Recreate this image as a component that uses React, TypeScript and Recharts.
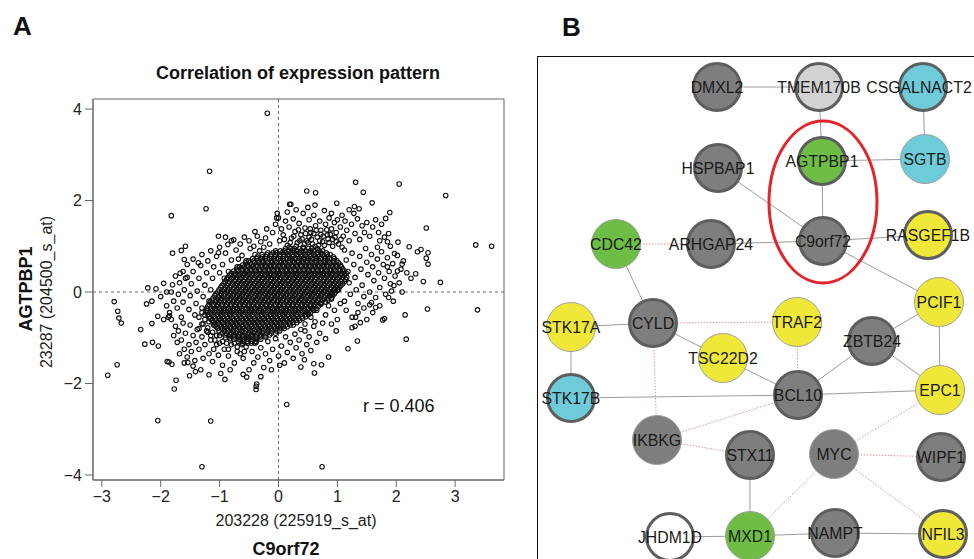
import React from 'react';
import { ScatterChart, Scatter, XAxis, YAxis, ReferenceLine, ReferenceArea } from 'recharts';

const FONT = '"Liberation Sans", Arial, Helvetica, sans-serif';

// ---------- Panel A data (C9orf72 vs AGTPBP1 expression) ----------
const xTicks = [-3, -2, -1, 0, 1, 2, 3];
const yTicks = [-4, -2, 0, 2, 4];

const outlierPts: [number, number][] = [
[-0.19,3.91],[-1.17,2.64],[-1.23,1.82],[-1.82,1.67],[1.31,2.40],[2.05,2.36],[2.84,2.11],[0.48,2.21],[0.63,2.17],[1.44,2.18],[3.35,1.03],[3.62,1.00],[2.51,1.40],[2.75,0.21],[2.46,0.23],[2.33,0.40],[2.54,0.61],[2.51,0.74],[2.54,0.86],[2.36,0.88],[2.22,0.99],[2.42,0.93],[2.53,-0.37],[3.38,-0.39],[2.15,-0.50],[2.17,-1.03],[2.03,1.09],[2.10,0.0],[1.97,0.84],[2.10,0.61],[1.89,1.74],[1.18,-1.24],[1.34,-1.07],[1.39,-0.67],[1.25,-0.78],[0.85,-1.42],[0.98,-0.85],[0.73,-1.59],[0.61,-1.77],[0.60,-1.57],[0.38,-1.64],[0.44,-1.48],[0.14,-2.46],[0.74,-3.82],[-1.30,-3.82],[-2.05,-2.81],[-1.15,-2.82],[-0.38,-2.06],[-0.38,-2.13],[-0.37,-2.01],[-0.54,-1.86],[-0.91,-1.91],[-1.18,-1.81],[-1.77,-2.12],[-1.74,-1.93],[-2.90,-1.82],[-2.74,-1.59],[-2.79,-0.21],[-2.73,-0.42],[-2.71,-0.57],[-2.67,-0.68],[-2.34,-0.82],[-2.27,-1.14],[-2.14,-1.10],[-2.04,-1.18],[-2.24,-0.26],[-2.15,-0.20],[-2.22,0.09],[-2.08,0.07],[-2.15,-0.69],[-2.05,-0.53],[-1.95,0.19],[-1.90,0.0],[-1.80,0.16],[-1.80,0.85],[-1.65,0.91],[-1.58,1.00],[-1.60,0.71],[-1.67,0.41],[-1.55,0.32],[-1.02,1.22],[-0.76,1.14],[-0.86,1.04],[-1.02,0.86],[-1.36,0.64],[-1.85,-0.52],[-1.87,-0.55],[-1.86,-1.53],[-1.81,-1.58],[-1.89,-1.52],[-1.51,-1.83],[-1.41,-1.74],[-1.54,-1.54],[-0.02,1.72],[-0.03,1.62],[0.21,1.92],[0.19,1.92],[0.99,1.94],[1.59,1.95],[1.29,1.87],[1.37,1.82],[1.82,1.61],[1.87,1.28],[1.72,1.12],[1.85,0.55],[2.02,0.46],[1.96,0.14],[1.92,0.02],[1.87,-0.12],[1.80,-0.58],[1.77,-0.61],[1.65,-0.34],[1.58,-0.23],[1.31,-0.55]
];

const upperBandPts: [number, number][] = [
[-0.65,1.05],[-0.58,1.2],[-0.5,1.12],[-0.42,1.0],[-0.36,1.22],[-0.3,1.1],[-0.22,1.18],[-0.15,1.05],[-0.1,1.3],[-0.05,1.48],[0.02,1.12],[0.05,1.38],[0.08,1.25],[0.12,1.55],[0.15,1.02],[0.18,1.42],[0.22,1.18],[0.25,1.6],[0.28,1.32],[0.32,1.08],[0.35,1.5],[0.38,1.25],[0.42,1.72],[0.45,1.4],[0.48,1.12],[0.5,1.85],[0.52,1.58],[0.55,1.3],[0.58,1.05],[0.6,1.68],[0.63,1.45],[0.66,1.2],[0.7,1.55],[0.72,1.35],[0.75,1.1],[0.78,1.78],[0.8,1.48],[0.83,1.25],[0.86,1.62],[0.9,1.38],[0.92,1.15],[0.95,1.52],[0.98,1.3],[1.02,1.05],[1.05,1.42],[1.08,1.68],[1.1,1.22],[1.13,1.55],[1.16,1.35],[1.2,1.12],[1.24,1.48],[1.28,1.72],[1.3,1.28],[1.34,1.6],[1.38,1.15],[1.42,1.45],[1.46,1.3],[1.5,1.52],[1.55,1.22],[1.6,1.42],[1.65,1.58],[1.7,1.3],[1.75,1.48],[1.8,1.2],[1.85,1.1],[0.0,1.62],[-0.2,1.38],[0.3,1.8],[0.62,1.9],[0.9,1.72],[1.2,1.8],[1.0,1.58],[0.15,1.75],[-0.4,1.32],[-0.8,1.12],[-0.9,1.2],[-1.0,0.98],
[0.44,1.05],[0.52,1.2],[0.68,1.02],[0.86,1.08],[0.4,1.16],[0.6,1.28],[0.76,1.22],[0.2,1.08],[0.1,1.15],
[0.3,1.0],[0.36,1.12],[0.42,0.98],[0.5,1.08],[0.56,1.15],[0.62,1.0],[0.7,1.12],[0.78,1.02],[0.84,1.16],[0.92,1.0],[0.46,1.28],[0.54,1.38],[0.64,1.35],[0.72,1.26],[0.82,1.36],[0.88,1.26],[0.96,1.2],[0.34,1.36],[0.26,1.22],[0.18,0.98],[0.98,1.1],[1.06,1.15],[1.08,0.98]
];

const rightLobePts: [number, number][] = [
[1.12,0.92],[1.15,0.7],[1.18,0.45],[1.2,0.2],[1.22,-0.05],[1.25,0.85],[1.28,0.6],[1.3,0.32],[1.32,0.05],[1.35,-0.25],[1.38,0.78],[1.4,0.5],[1.42,0.15],[1.45,-0.1],[1.48,0.95],[1.5,0.65],[1.52,0.38],[1.55,0.0],[1.58,0.82],[1.6,0.55],[1.62,0.25],[1.65,-0.12],[1.68,0.72],[1.7,0.42],[1.72,0.1],[1.75,0.88],[1.78,0.6],[1.8,0.3],[1.82,-0.05],[1.85,0.75],[1.88,0.45],[1.9,0.18],[1.94,0.62],[1.98,0.35],[2.02,0.8],[2.05,0.2],[2.08,0.5],[2.12,0.68],[1.15,-0.4],[1.25,-0.55],[1.35,-0.45],[1.45,-0.35],[1.55,-0.28],[1.12,-0.2],[1.3,-0.75],[1.5,-0.6],[1.6,-0.45],[1.72,-0.3],[1.68,0.98],[1.9,1.0],[2.18,0.42],[2.25,0.3],[1.95,-0.2],
[0.55,-0.55],[0.65,-0.4],[0.72,-0.25],[0.8,-0.5],[0.85,-0.3],[0.9,-0.15],[0.95,-0.4],[1.0,-0.6],[1.05,-0.25],[0.62,-0.65],[0.45,-0.7],[0.38,-0.82],[0.9,-0.7],[1.02,0.05]
];

const leftLobePts: [number, number][] = [
[-1.05,0.78],[-1.1,0.55],[-1.12,0.3],[-1.15,0.05],[-1.18,-0.2],[-1.2,0.68],[-1.22,0.42],[-1.25,0.15],[-1.28,-0.1],[-1.3,-0.35],[-1.32,0.58],[-1.35,0.3],[-1.38,0.02],[-1.4,-0.25],[-1.42,-0.5],[-1.45,0.45],[-1.48,0.18],[-1.5,-0.08],[-1.52,-0.38],[-1.55,0.6],[-1.58,0.3],[-1.6,0.05],[-1.62,-0.22],[-1.65,-0.55],[-1.68,0.2],[-1.7,-0.05],[-1.72,-0.35],[-1.75,0.35],[-1.78,-0.2],[-1.82,0.0],[-1.85,-0.45],[-1.3,0.82],[-1.45,0.72],[-1.15,0.9],[-1.62,0.45],[-1.9,-0.3],[-1.95,-0.6],[-2.0,-0.1],
[-0.95,0.6],[-0.9,0.85],[-0.85,0.45],[-0.8,0.7],[-0.72,0.92],[-0.7,0.55],[-0.62,0.8],[-0.55,0.68],[-0.48,0.95],[-0.4,0.82],[-0.32,0.9],[-0.25,0.98],[-0.92,0.3],[-1.0,0.42],[-0.68,0.72]
];

const lowerPts: [number, number][] = [
[-0.55,-1.2],[-0.6,-1.45],[-0.65,-1.05],[-0.7,-1.3],[-0.75,-1.55],[-0.8,-1.15],[-0.85,-1.4],[-0.9,-1.0],[-0.92,-1.25],[-0.95,-1.6],[-1.0,-1.12],[-1.02,-1.38],[-1.05,-0.95],[-1.1,-1.25],[-1.12,-1.52],[-1.15,-1.05],[-1.18,-1.35],[-1.2,-0.88],[-1.25,-1.15],[-1.28,-1.45],[-1.3,-0.98],[-1.32,-1.7],[-1.35,-1.25],[-1.38,-0.82],[-1.4,-1.1],[-1.42,-1.5],[-1.45,-0.95],[-1.48,-1.3],[-1.5,-0.72],[-1.52,-1.15],[-1.55,-1.42],[-1.58,-0.9],[-1.6,-1.25],[-1.62,-0.68],[-1.65,-1.05],[-1.68,-1.35],[-1.7,-0.85],[-1.72,-1.1],[-1.75,-0.75],[-1.78,-0.95],[-1.82,-0.6],[-1.3,-0.7],[-1.25,-0.6],[-1.35,-0.55],[-0.98,-1.78],[-0.82,-1.7],[-1.45,-1.62],[-1.6,-1.55],[-1.1,-0.72],[-1.2,-0.78],
[-0.5,-1.0],[-0.45,-1.3],[-0.42,-1.55],[-0.38,-1.1],[-0.35,-1.42],[-0.3,-1.22],[-0.25,-1.65],[-0.22,-1.35],[-0.18,-1.08],[-0.15,-1.5],[-0.1,-1.25],[-0.05,-1.02],[0.0,-1.4],[0.05,-1.18],[0.1,-1.55],[0.12,-0.98],[0.15,-1.32],[0.2,-1.1],[0.25,-1.45],[0.28,-0.92],[0.3,-1.22],[0.35,-1.05],[0.4,-1.35],[0.45,-0.85],[0.48,-1.15],[0.52,-0.98],[0.55,-1.28],[0.6,-0.75],[0.65,-1.1],[0.7,-0.9],[0.75,-0.68],[0.8,-1.02],[-0.5,-1.7],[-0.6,-1.8],[-0.3,-1.85],[0.02,-1.6],[-0.12,-1.7],
[-1.25,-0.5],[-1.28,-0.7],[-1.22,-0.85],[-1.15,-0.95],[-1.08,-1.05],[-1.0,-0.95],[-0.95,-1.08],[-0.88,-1.12],[-0.82,-1.02],[-0.75,-1.12],[-0.7,-1.2],[-0.62,-1.15],[-0.58,-1.3],[-1.05,-1.15],[-1.12,-0.88],[-1.18,-0.65],[-1.3,-0.45],[-1.35,-0.8],[-0.85,-1.25],[-0.65,-1.35]
];

// dense core: each row is [y, x values]
const coreRows: [number, number[]][] = [
[0.95,[0.12,0.21,0.27,0.36,0.42,0.51,0.57,0.66]],
[0.86,[-0.18,-0.09,-0.03,0.06,0.12,0.21,0.27,0.36,0.42,0.51,0.57,0.66,0.72,0.81]],
[0.77,[-0.36,-0.27,-0.21,-0.12,-0.06,0.03,0.09,0.18,0.24,0.33,0.39,0.48,0.54,0.63,0.69,0.78,0.84,0.93]],
[0.68,[-0.51,-0.42,-0.36,-0.27,-0.21,-0.12,-0.06,0.03,0.09,0.18,0.24,0.33,0.39,0.48,0.54,0.63,0.69,0.78,0.84,0.93,0.99]],
[0.59,[-0.61,-0.53,-0.46,-0.38,-0.29,-0.23,-0.14,-0.08,0.01,0.07,0.16,0.22,0.31,0.37,0.46,0.52,0.61,0.67,0.76,0.82,0.91,0.97,1.05]],
[0.50,[-0.71,-0.62,-0.56,-0.47,-0.41,-0.32,-0.26,-0.17,-0.11,-0.02,0.04,0.13,0.19,0.28,0.34,0.43,0.49,0.58,0.64,0.73,0.79,0.88,0.94,1.03,1.09]],
[0.41,[-0.8,-0.73,-0.64,-0.58,-0.49,-0.43,-0.34,-0.28,-0.19,-0.13,-0.04,0.02,0.11,0.17,0.26,0.32,0.41,0.47,0.56,0.62,0.71,0.77,0.86,0.92,1.01,1.07,1.15]],
[0.32,[-0.86,-0.77,-0.71,-0.62,-0.56,-0.47,-0.41,-0.32,-0.26,-0.17,-0.11,-0.02,0.04,0.13,0.19,0.28,0.34,0.43,0.49,0.58,0.64,0.73,0.79,0.88,0.94,1.03,1.09,1.16]],
[0.23,[-0.91,-0.83,-0.74,-0.68,-0.59,-0.53,-0.44,-0.38,-0.29,-0.23,-0.14,-0.08,0.01,0.07,0.16,0.22,0.31,0.37,0.46,0.52,0.61,0.67,0.76,0.82,0.91,0.97,1.06,1.12]],
[0.14,[-0.96,-0.87,-0.81,-0.72,-0.66,-0.57,-0.51,-0.42,-0.36,-0.27,-0.21,-0.12,-0.06,0.03,0.09,0.18,0.24,0.33,0.39,0.48,0.54,0.63,0.69,0.78,0.84,0.93,0.99,1.06]],
[0.05,[-1.01,-0.92,-0.86,-0.77,-0.71,-0.62,-0.56,-0.47,-0.41,-0.32,-0.26,-0.17,-0.11,-0.02,0.04,0.13,0.19,0.28,0.34,0.43,0.49,0.58,0.64,0.73,0.79,0.88,0.94,1.0]],
[-0.04,[-1.06,-0.97,-0.91,-0.82,-0.76,-0.67,-0.61,-0.52,-0.46,-0.37,-0.31,-0.22,-0.16,-0.07,-0.01,0.08,0.14,0.23,0.29,0.38,0.44,0.53,0.59,0.68,0.74,0.83,0.89,0.95]],
[-0.13,[-1.11,-1.02,-0.96,-0.87,-0.81,-0.72,-0.66,-0.57,-0.51,-0.42,-0.36,-0.27,-0.21,-0.12,-0.06,0.03,0.09,0.18,0.24,0.33,0.39,0.48,0.54,0.63,0.69,0.78,0.84,0.9]],
[-0.22,[-1.16,-1.07,-1.01,-0.92,-0.86,-0.77,-0.71,-0.62,-0.56,-0.47,-0.41,-0.32,-0.26,-0.17,-0.11,-0.02,0.04,0.13,0.19,0.28,0.34,0.43,0.49,0.58,0.64,0.73,0.8]],
[-0.31,[-1.2,-1.11,-1.05,-0.96,-0.9,-0.81,-0.75,-0.66,-0.6,-0.51,-0.45,-0.36,-0.3,-0.21,-0.15,-0.06,0.0,0.09,0.15,0.24,0.3,0.39,0.45,0.54,0.6,0.68]],
[-0.40,[-1.21,-1.12,-1.06,-0.97,-0.91,-0.82,-0.76,-0.67,-0.61,-0.52,-0.46,-0.37,-0.31,-0.22,-0.16,-0.07,-0.01,0.08,0.14,0.23,0.29,0.38,0.44,0.53,0.6]],
[-0.49,[-1.2,-1.13,-1.04,-0.98,-0.89,-0.83,-0.74,-0.68,-0.59,-0.53,-0.44,-0.38,-0.29,-0.23,-0.14,-0.08,0.01,0.07,0.16,0.22,0.31,0.37,0.46,0.51]],
[-0.58,[-1.16,-1.07,-1.01,-0.92,-0.86,-0.77,-0.71,-0.62,-0.56,-0.47,-0.41,-0.32,-0.26,-0.17,-0.11,-0.02,0.04,0.13,0.19,0.28,0.34,0.41]],
[-0.67,[-1.11,-1.02,-0.96,-0.87,-0.81,-0.72,-0.66,-0.57,-0.51,-0.42,-0.36,-0.27,-0.21,-0.12,-0.06,0.03,0.09,0.18,0.24,0.31]],
[-0.76,[-1.06,-0.97,-0.91,-0.82,-0.76,-0.67,-0.61,-0.52,-0.46,-0.37,-0.31,-0.22,-0.16,-0.07,-0.01,0.08,0.15]],
[-0.85,[-1.01,-0.92,-0.86,-0.77,-0.71,-0.62,-0.56,-0.47,-0.41,-0.32,-0.26,-0.17,-0.11,-0.03,0.02]],
[-0.94,[-0.91,-0.82,-0.76,-0.67,-0.61,-0.52,-0.46,-0.37,-0.31,-0.22,-0.15]],
[-1.03,[-0.76,-0.67,-0.61,-0.52,-0.46,-0.37,-0.3]],
[-1.12,[-0.61,-0.52,-0.46,-0.4]]
];

// dense core, second (interleaved) set of rows
const coreRowsB: [number, number[]][] = [
[0.9,[-0.05,0.03,0.1,0.17,0.25,0.31,0.39,0.46,0.54,0.6,0.69,0.75]],
[0.82,[-0.28,-0.2,-0.13,-0.05,0.02,0.09,0.16,0.24,0.31,0.38,0.45,0.53,0.6,0.67,0.75,0.83,0.88]],
[0.73,[-0.44,-0.37,-0.3,-0.22,-0.15,-0.08,0.0,0.07,0.14,0.21,0.29,0.36,0.43,0.51,0.58,0.65,0.72,0.8,0.87,0.95]],
[0.64,[-0.56,-0.48,-0.41,-0.33,-0.26,-0.18,-0.11,-0.03,0.04,0.12,0.19,0.27,0.34,0.42,0.49,0.57,0.64,0.72,0.79,0.87,0.94,1.02]],
[0.55,[-0.66,-0.58,-0.51,-0.43,-0.36,-0.28,-0.21,-0.13,-0.06,0.02,0.09,0.17,0.24,0.32,0.39,0.47,0.54,0.62,0.69,0.77,0.84,0.92,0.99,1.07]],
[0.46,[-0.76,-0.68,-0.61,-0.53,-0.46,-0.38,-0.31,-0.23,-0.16,-0.08,-0.01,0.07,0.14,0.22,0.29,0.37,0.44,0.52,0.59,0.67,0.74,0.82,0.89,0.97,1.04,1.12]],
[0.37,[-0.83,-0.75,-0.68,-0.6,-0.53,-0.45,-0.38,-0.3,-0.23,-0.15,-0.08,0.0,0.07,0.15,0.22,0.3,0.37,0.45,0.52,0.6,0.67,0.75,0.82,0.9,0.97,1.05,1.12]],
[0.28,[-0.88,-0.8,-0.73,-0.65,-0.58,-0.5,-0.43,-0.35,-0.28,-0.2,-0.13,-0.05,0.02,0.1,0.17,0.25,0.32,0.4,0.47,0.55,0.62,0.7,0.77,0.85,0.92,1.0,1.07,1.14]],
[0.18,[-0.93,-0.85,-0.78,-0.7,-0.63,-0.55,-0.48,-0.4,-0.33,-0.25,-0.18,-0.1,-0.03,0.05,0.12,0.2,0.27,0.35,0.42,0.5,0.57,0.65,0.72,0.8,0.87,0.95,1.02,1.09]],
[0.1,[-0.98,-0.9,-0.83,-0.75,-0.68,-0.6,-0.53,-0.45,-0.38,-0.3,-0.23,-0.15,-0.08,0.0,0.07,0.15,0.22,0.3,0.37,0.45,0.52,0.6,0.67,0.75,0.82,0.9,0.97,1.03]],
[0.0,[-1.03,-0.95,-0.88,-0.8,-0.73,-0.65,-0.58,-0.5,-0.43,-0.35,-0.28,-0.2,-0.13,-0.05,0.02,0.1,0.17,0.25,0.32,0.4,0.47,0.55,0.62,0.7,0.77,0.85,0.92,0.97]],
[-0.08,[-1.08,-1.0,-0.93,-0.85,-0.78,-0.7,-0.63,-0.55,-0.48,-0.4,-0.33,-0.25,-0.18,-0.1,-0.03,0.05,0.12,0.2,0.27,0.35,0.42,0.5,0.57,0.65,0.72,0.8,0.87,0.92]],
[-0.18,[-1.13,-1.05,-0.98,-0.9,-0.83,-0.75,-0.68,-0.6,-0.53,-0.45,-0.38,-0.3,-0.23,-0.15,-0.08,0.0,0.07,0.15,0.22,0.3,0.37,0.45,0.52,0.6,0.67,0.75,0.84]],
[-0.27,[-1.18,-1.1,-1.03,-0.95,-0.88,-0.8,-0.73,-0.65,-0.58,-0.5,-0.43,-0.35,-0.28,-0.2,-0.13,-0.05,0.02,0.1,0.17,0.25,0.32,0.4,0.47,0.55,0.62,0.72]],
[-0.36,[-1.22,-1.15,-1.08,-1.0,-0.93,-0.85,-0.78,-0.7,-0.63,-0.55,-0.48,-0.4,-0.33,-0.25,-0.18,-0.1,-0.03,0.05,0.12,0.2,0.27,0.35,0.42,0.5,0.57,0.64]],
[-0.44,[-1.23,-1.16,-1.09,-1.01,-0.94,-0.86,-0.79,-0.71,-0.64,-0.56,-0.49,-0.41,-0.34,-0.26,-0.19,-0.11,-0.04,0.04,0.11,0.19,0.26,0.34,0.41,0.49,0.55]],
[-0.54,[-1.18,-1.1,-1.03,-0.95,-0.88,-0.8,-0.73,-0.65,-0.58,-0.5,-0.43,-0.35,-0.28,-0.2,-0.13,-0.05,0.02,0.1,0.17,0.25,0.32,0.4,0.46]],
[-0.62,[-1.13,-1.05,-0.98,-0.9,-0.83,-0.75,-0.68,-0.6,-0.53,-0.45,-0.38,-0.3,-0.23,-0.15,-0.08,0.0,0.07,0.15,0.22,0.3,0.36]],
[-0.72,[-1.08,-1.0,-0.93,-0.85,-0.78,-0.7,-0.63,-0.55,-0.48,-0.4,-0.33,-0.25,-0.18,-0.1,-0.03,0.05,0.12,0.2,0.25]],
[-0.8,[-1.03,-0.95,-0.88,-0.8,-0.73,-0.65,-0.58,-0.5,-0.43,-0.35,-0.28,-0.2,-0.13,-0.05,0.04,0.1]],
[-0.9,[-0.96,-0.88,-0.8,-0.72,-0.65,-0.57,-0.5,-0.42,-0.35,-0.27,-0.2,-0.12,-0.05]],
[-0.98,[-0.84,-0.75,-0.68,-0.6,-0.53,-0.45,-0.38,-0.3,-0.22]],
[-1.08,[-0.68,-0.6,-0.53,-0.45,-0.38]]
];

const scatterData = [...outlierPts, ...upperBandPts, ...rightLobePts, ...leftLobePts, ...lowerPts]
  .map(([x, y]) => ({ x, y }))
  .concat([...coreRows, ...coreRowsB].flatMap(([y, xs]) => xs.map((x) => ({ x, y }))));

// ---------- Panel B data (network) ----------
type NodeDef = { name: string; x: number; y: number; color: string; thick: boolean; dx: number };
const nodeNames = ['DMXL2','TMEM170B','CSGALNACT2','HSPBAP1','AGTPBP1','SGTB','CDC42','ARHGAP24','C9orf72','RASGEF1B','PCIF1','STK17A','CYLD','TRAF2','TSC22D2','ZBTB24','BCL10','EPC1','STK17B','IKBKG','STX11','MYC','WIPF1','JHDM1D','MXD1','NAMPT','NFIL3'];
const nodeX = [179,281,385,180,284,387,78,173,285,390,401,33,115,259,185,334,260,402,33,119,212,296,403,132,212,297,405];
const nodeY = [30,30,30,111,104,102,187,187,184,178,245,270,266,265,301,284,338,333,341,383,398,397,400,480,479,476,477];
const nodeGroup = ['gray','light','cyan','gray','green','cyan','green','gray','gray','yellow','yellow','yellow','gray','yellow','yellow','gray','gray','yellow','cyan','gray','gray','gray','gray','white','green','gray','yellow'];
const nodeThick = [1,1,1,1,1,0,0,1,1,1,0,0,1,0,0,1,1,0,1,0,1,0,1,1,0,1,1];
const labelShift: Record<string, number> = { CSGALNACT2: -4 };
const groupColor: Record<string, string> = { gray: '#7e7e7e', light: '#d2d2d2', cyan: '#6ecbd9', green: '#6ebe45', yellow: '#efe838', white: '#ffffff' };

const solidEdges: [string, string][] = [
['DMXL2','TMEM170B'],['TMEM170B','AGTPBP1'],['CSGALNACT2','SGTB'],['AGTPBP1','SGTB'],['AGTPBP1','C9orf72'],['HSPBAP1','C9orf72'],['ARHGAP24','C9orf72'],['C9orf72','RASGEF1B'],['C9orf72','PCIF1'],['CDC42','CYLD'],['STK17A','CYLD'],['STK17A','STK17B'],['CYLD','TSC22D2'],['TSC22D2','BCL10'],['BCL10','ZBTB24'],['ZBTB24','PCIF1'],['ZBTB24','EPC1'],['PCIF1','EPC1'],['STK17B','BCL10'],['BCL10','EPC1'],['STX11','MXD1'],['JHDM1D','MXD1'],['MXD1','NAMPT'],['NAMPT','NFIL3']
];
const dottedEdges: [string, string][] = [
['CDC42','ARHGAP24'],['CYLD','TRAF2'],['TRAF2','BCL10'],['CYLD','IKBKG'],['IKBKG','BCL10'],['IKBKG','STX11'],['MYC','EPC1'],['MYC','WIPF1'],['MYC','MXD1'],['MYC','NFIL3']
];
const highlightCenter = [{ x: 285, y: 145 }];

const nodes: NodeDef[] = nodeNames.map((name, i) => ({ name, x: nodeX[i], y: nodeY[i], color: groupColor[nodeGroup[i]], thick: nodeThick[i] === 1, dx: labelShift[name] || 0 }));
const nodeByName: Record<string, NodeDef> = Object.fromEntries(nodes.map((n) => [n.name, n]));

const fmtMinus = (v: number) => String(v).replace('-', '\u2212');

const PointShape = (p: any) => (
  <circle cx={p.cx} cy={p.cy} r={2.25} fill="none" stroke="#111" strokeWidth={1.1} />
);

const NodeCircle = (p: any) => {
  const n: NodeDef = p.payload;
  return (
    <circle
      cx={p.cx}
      cy={p.cy}
      r={n.thick ? 23.5 : 24.5}
      fill={n.color}
      stroke={n.thick ? '#5e5e5e' : '#a0a0a0'}
      strokeWidth={n.thick ? 3 : 1}
    />
  );
};

const NodeLabel = (p: any) => {
  const n: NodeDef = p.payload;
  return (
    <text x={p.cx + n.dx} y={p.cy} textAnchor="middle" dominantBaseline="central" fontSize={15.8} fontFamily={FONT} fill="#1a1a1a">
      {n.name}
    </text>
  );
};

const Ellipse = (p: any) => (
  <ellipse cx={p.cx} cy={p.cy} rx={54} ry={81} fill="none" stroke="#e3242b" strokeWidth={3} />
);

const Empty = () => <g />;

export default function App() {
  const tickStyle = { fontSize: 16, fill: '#222', fontFamily: FONT };
  return (
    <div style={{ position: 'absolute', left: 0, top: 0, width: 974, height: 559, overflow: 'hidden', background: '#fff', fontFamily: FONT }}>
      {/* Panel A */}
      <div style={{ position: 'absolute', left: 0, top: 0 }}>
        <ScatterChart width={520} height={559} margin={{ top: 99, right: 16, bottom: 49, left: 38 }}>
          <XAxis
            type="number"
            dataKey="x"
            domain={[-3.15, 3.83]}
            allowDataOverflow
            ticks={xTicks}
            tickFormatter={fmtMinus}
            tick={tickStyle}
            tickSize={7}
            tickMargin={4}
            height={30}
            axisLine={{ stroke: '#666' }}
            tickLine={{ stroke: '#666' }}
          />
          <YAxis
            type="number"
            dataKey="y"
            domain={[-4.11, 4.22]}
            allowDataOverflow
            ticks={yTicks}
            tickFormatter={fmtMinus}
            tick={tickStyle}
            tickSize={8}
            tickMargin={3}
            width={55}
            axisLine={{ stroke: '#666' }}
            tickLine={{ stroke: '#666' }}
          />
          <ReferenceArea x1={-3.15} x2={3.83} y1={-4.11} y2={4.22} fill="none" fillOpacity={0} stroke="#666" strokeWidth={1} />
          <ReferenceLine x={0} stroke="#444" strokeDasharray="3 3" strokeWidth={0.8} />
          <ReferenceLine y={0} stroke="#444" strokeDasharray="3 3" strokeWidth={0.8} />
          <Scatter data={scatterData} shape={PointShape} isAnimationActive={false} legendType="none" />
        </ScatterChart>
      </div>

      {/* Panel B frame */}
      <div style={{ position: 'absolute', left: 537, top: 56, width: 600, height: 600, borderLeft: '1.5px solid #111', borderTop: '1.5px solid #111' }} />

      {/* Panel B network */}
      <div style={{ position: 'absolute', left: 538, top: 57 }}>
        <ScatterChart width={436} height={502} margin={{ top: 0, right: 0, bottom: 0, left: 0 }}>
          <XAxis type="number" dataKey="x" domain={[0, 436]} hide allowDataOverflow />
          <YAxis type="number" dataKey="y" domain={[0, 502]} reversed hide allowDataOverflow />
          {solidEdges.map(([a, b]) => (
            <Scatter
              key={`s-${a}-${b}`}
              data={[{ x: nodeByName[a].x, y: nodeByName[a].y }, { x: nodeByName[b].x, y: nodeByName[b].y }]}
              line={{ stroke: '#9c9c9c', strokeWidth: 1 }}
              shape={Empty}
              isAnimationActive={false}
              legendType="none"
            />
          ))}
          {dottedEdges.map(([a, b]) => (
            <Scatter
              key={`d-${a}-${b}`}
              data={[{ x: nodeByName[a].x, y: nodeByName[a].y }, { x: nodeByName[b].x, y: nodeByName[b].y }]}
              line={{ stroke: '#d89a9a', strokeWidth: 1, strokeDasharray: '1.5 1.5' }}
              shape={Empty}
              isAnimationActive={false}
              legendType="none"
            />
          ))}
          <Scatter data={nodes} shape={NodeCircle} isAnimationActive={false} legendType="none" />
          <Scatter data={nodes} shape={NodeLabel} isAnimationActive={false} legendType="none" />
          <Scatter data={highlightCenter} shape={Ellipse} isAnimationActive={false} legendType="none" />
        </ScatterChart>
      </div>

      {/* Text annotations */}
      <svg width={974} height={559} style={{ position: 'absolute', left: 0, top: 0, pointerEvents: 'none' }}>
        <g fontFamily={FONT} fill="#111">
          <text x={13} y={35} fontSize={26} fontWeight="bold">A</text>
          <text x={562} y={36} fontSize={26} fontWeight="bold">B</text>
          <text x={298} y={79} fontSize={18} fontWeight="bold" textAnchor="middle">Correlation of expression pattern</text>
          <text x={363} y={412} fontSize={18}>r = 0.406</text>
          <text x={296} y={526} fontSize={16} textAnchor="middle" fill="#222">203228 (225919_s_at)</text>
          <text x={286} y={555} fontSize={18} fontWeight="bold" textAnchor="middle">C9orf72</text>
          <text x={52} y={292} fontSize={16} textAnchor="middle" fill="#222" transform="rotate(-90 52 292)">23287 (204500_s_at)</text>
          <text x={32} y={289} fontSize={18} fontWeight="bold" textAnchor="middle" transform="rotate(-90 32 289)">AGTPBP1</text>
        </g>
      </svg>
    </div>
  );
}
